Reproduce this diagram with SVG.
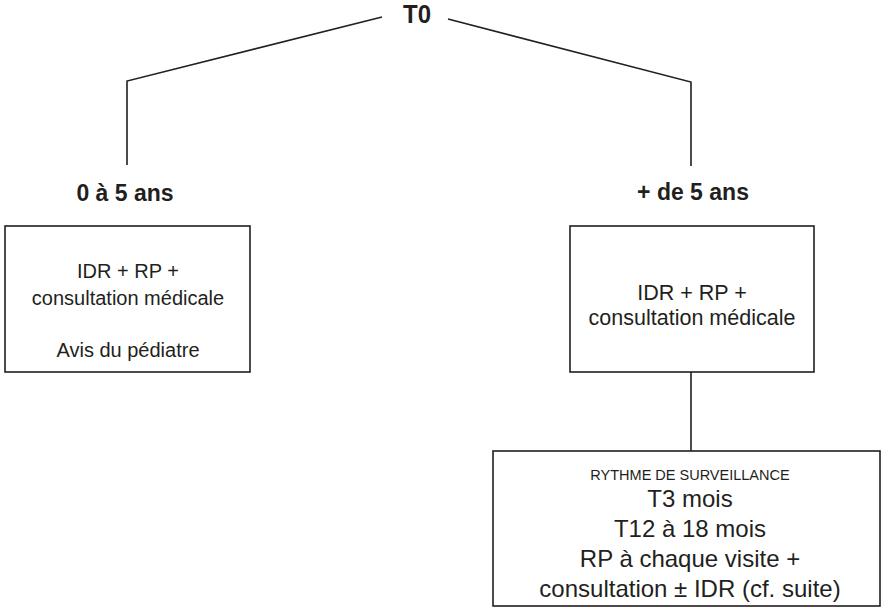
<svg xmlns="http://www.w3.org/2000/svg" width="882" height="616" viewBox="0 0 882 616">
<style>
.box{fill:#fff;stroke:#231f20;stroke-width:1.6}
.ln{fill:none;stroke:#231f20;stroke-width:1.6}
text{font-family:"Liberation Sans",Arial,sans-serif;fill:#231f20;text-anchor:middle}
.h{font-weight:bold;font-size:23px}
.t20{font-size:20px}
.t22{font-size:21.5px}
.t24{font-size:24px}
.sm{font-size:14.5px}
</style>
<rect width="882" height="616" fill="#fff"/>
<g id="connectors">
<polyline class="ln" points="382,17 127,81 127,165"/>
<polyline class="ln" points="448,19 691,82 691,166"/>
<line class="ln" x1="691" y1="372" x2="691" y2="451"/>
</g>
<g id="t0"><text x="417" y="23" font-weight="bold" font-size="25" textLength="28" lengthAdjust="spacingAndGlyphs">T0</text></g>
<g id="age1"><text class="h" x="125" y="201">0 à 5 ans</text></g>
<g id="age2"><text class="h" x="693" y="200">+ de 5 ans</text></g>
<g id="box1">
<rect class="box" x="5" y="226" width="245" height="146"/>
<text class="t20" x="128" y="278">IDR + RP +</text>
<text class="t20" x="128" y="305">consultation médicale</text>
<text class="t20" x="128" y="357">Avis du pédiatre</text>
</g>
<g id="box2">
<rect class="box" x="570" y="226" width="244" height="146"/>
<text class="t22" x="692" y="300">IDR + RP +</text>
<text class="t22" x="692" y="325">consultation médicale</text>
</g>
<g id="box3">
<rect class="box" x="493" y="451" width="387" height="155"/>
<text class="sm" x="690" y="480">RYTHME DE SURVEILLANCE</text>
<text class="t24" x="690" y="507">T3 mois</text>
<text class="t24" x="690" y="537">T12 à 18 mois</text>
<text class="t24" x="690" y="567">RP à chaque visite +</text>
<text class="t24" x="690" y="597">consultation ± IDR (cf. suite)</text>
</g>
</svg>
